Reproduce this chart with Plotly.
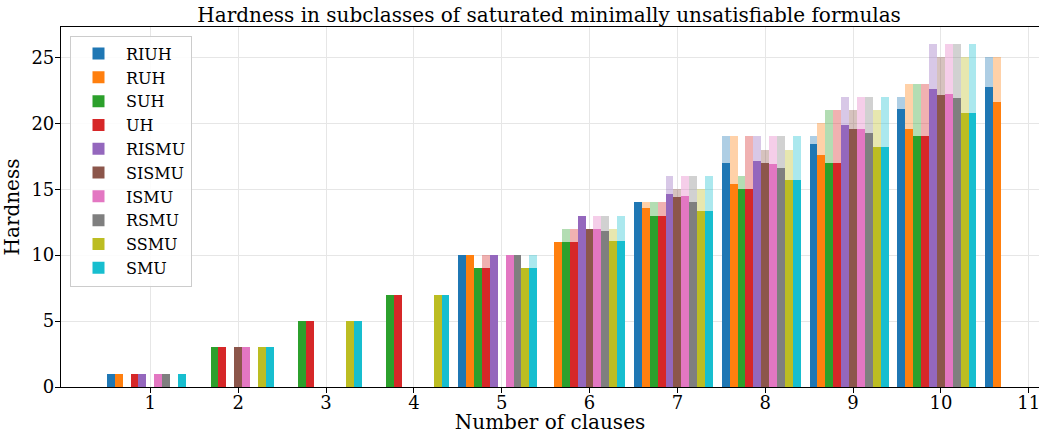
import plotly.graph_objects as go

clauses = [1, 2, 3, 4, 5, 6, 7, 8, 9, 10, 11]
series_names = ["RIUH", "RUH", "SUH", "UH", "RISMU", "SISMU", "ISMU", "RSMU", "SSMU", "SMU"]
colors = ["#1f77b4", "#ff7f0e", "#2ca02c", "#d62728", "#9467bd",
          "#8c564b", "#e377c2", "#7f7f7f", "#bcbd22", "#17becf"]

# mean hardness (solid bars)
riuh_mean = [1, None, None, None, 10, None, 14, 17, 18.43, 21.08, 22.75]
ruh_mean = [1, None, None, None, 10, 11, 13.6, 15.4, 17.6, 19.54, 21.6]
suh_mean = [None, 3, 5, 7, 9, 11, 13, 15, 17.02, 19.04, None]
uh_mean = [1, 3, 5, 7, 9, 11, 13, 15, 17.0, 19.04, None]
rismu_mean = [1, None, None, None, 10, 13, 14.65, 17.14, 19.87, 22.57, None]
sismu_mean = [None, 3, None, None, None, 12, 14.44, 16.97, 19.54, 22.14, None]
ismu_mean = [1, 3, None, None, 10, 12, 14.49, 16.92, 19.54, 22.19, None]
rsmu_mean = [1, None, None, None, 10, 11.85, 14.04, 16.61, 19.27, 21.94, None]
ssmu_mean = [None, 3, 5, 7, 9, 11.08, 13.36, 15.7, 18.2, 20.78, None]
smu_mean = [1, 3, 5, 7, 9, 11.08, 13.36, 15.7, 18.2, 20.78, None]

# maximum hardness (translucent bars)
riuh_max = [1, None, None, None, 10, None, 14, 19, 19, 22, 25]
ruh_max = [1, None, None, None, 10, 11, 14, 19, 20, 23, 25]
suh_max = [None, 3, 5, 7, 9, 12, 14, 16, 21, 23, None]
uh_max = [1, 3, 5, 7, 10, 12, 14, 19, 21, 23, None]
rismu_max = [1, None, None, None, 10, 13, 16, 19, 22, 26, None]
sismu_max = [None, 3, None, None, None, 12, 15, 18, 21, 25, None]
ismu_max = [1, 3, None, None, 10, 13, 16, 19, 22, 26, None]
rsmu_max = [1, None, None, None, 10, 13, 16, 19, 22, 26, None]
ssmu_max = [None, 3, 5, 7, 9, 12, 15, 18, 21, 25, None]
smu_max = [1, 3, 5, 7, 10, 13, 16, 19, 22, 26, None]

means = [riuh_mean, ruh_mean, suh_mean, uh_mean, rismu_mean,
         sismu_mean, ismu_mean, rsmu_mean, ssmu_mean, smu_mean]
maxes = [riuh_max, ruh_max, suh_max, uh_max, rismu_max,
         sismu_max, ismu_max, rsmu_max, ssmu_max, smu_max]

bar_w = 0.09
FONT = "DejaVu Serif"


def rgba(hex_color, a):
    h = hex_color.lstrip("#")
    r, g, b = int(h[0:2], 16), int(h[2:4], 16), int(h[4:6], 16)
    return f"rgba({r},{g},{b},{a})"


fig = go.Figure()
for i, (name, col) in enumerate(zip(series_names, colors)):
    off = -0.495 + i * bar_w
    fig.add_trace(go.Bar(
        x=clauses, y=maxes[i], name=name + " max", showlegend=False,
        offset=off, width=bar_w,
        marker=dict(color=rgba(col, 0.36), line=dict(width=0)),
    ))
    fig.add_trace(go.Bar(
        x=clauses, y=means[i], name=name,
        offset=off, width=bar_w,
        marker=dict(color=col, line=dict(width=0)),
    ))

fig.update_layout(
    width=1040, height=434,
    margin=dict(l=61, r=1, t=27.3, b=46.7),
    barmode="overlay",
    plot_bgcolor="white", paper_bgcolor="white",
    font=dict(family=FONT, color="black", size=18),
    title=dict(text="Hardness in subclasses of saturated minimally unsatisfiable formulas",
               x=0.528, xanchor="center", yref="container", y=0.965, yanchor="middle",
               font=dict(size=20, family=FONT, color="black")),
    legend=dict(x=0.0092, y=0.976, xanchor="left", yanchor="top",
                bgcolor="rgba(255,255,255,0.85)", bordercolor="#cccccc", borderwidth=1,
                font=dict(size=16, family=FONT), tracegroupgap=0, itemwidth=45),
    bargap=0,
)
fig.update_xaxes(
    range=[-0.017, 11.117], tickvals=clauses, ticktext=[str(c) for c in clauses],
    showline=True, linecolor="black", linewidth=1.2, mirror=True,
    ticks="outside", ticklen=5, tickcolor="black",
    showgrid=True, gridcolor="#e6e6e6", gridwidth=1, zeroline=False,
    tickfont=dict(size=18, family=FONT), automargin=False,
    ticklabeloverflow="allow", ticklabelstandoff=-6,
    title=dict(text="Number of clauses", font=dict(size=20, family=FONT), standoff=6),
)
fig.update_yaxes(
    range=[0, 27.3], tickvals=[0, 5, 10, 15, 20, 25],
    showline=True, linecolor="black", linewidth=1.2,
    ticks="outside", ticklen=5, tickcolor="black",
    showgrid=True, gridcolor="#e6e6e6", gridwidth=1, zeroline=False,
    tickfont=dict(size=18, family=FONT), automargin=False,
    ticklabelstandoff=-3,
    title=dict(text="Hardness", font=dict(size=20, family=FONT), standoff=9),
)

# remove the browser's default 8px body margin so the figure fills the window
fig.write_html("out.html", config={"displayModeBar": False},
               post_script="document.body.style.margin='0';")
